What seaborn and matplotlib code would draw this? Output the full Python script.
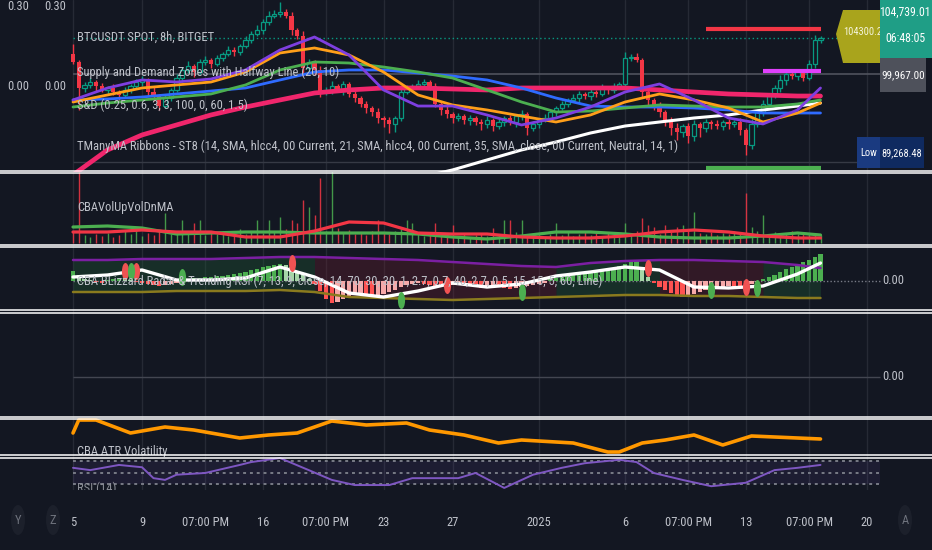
import matplotlib
matplotlib.use("Agg")
import matplotlib.pyplot as plt
import seaborn as sns
import numpy as np
from matplotlib.lines import Line2D
from matplotlib.patches import Rectangle, Polygon, Ellipse
from matplotlib.markers import MarkerStyle
from matplotlib.transforms import Affine2D

# ── Candles: BTCUSDT 8h ───────────────────────────────────────
first_open = 102600
closes = [
    101550, 98120, 98520, 98910, 98380, 97860, 98120, 97590, 97200, 97860,
    98380, 98910, 99180, 97590, 97060, 95740, 96800, 97860, 99440, 100500,
    101020, 100230, 101550, 101820, 101290, 102080, 102610, 103140, 102870, 103660,
    104460, 105250, 105780, 106830, 107620, 107890, 108150, 107620, 105780, 104980,
    100760, 101550, 100500, 97590, 97860, 98380, 97860, 98650, 97330, 96800,
    96010, 95480, 94950, 94160, 93900, 93370, 94160, 97590, 98120, 98380,
    98650, 98910, 98380, 96010, 95220, 94690, 94160, 94420, 93900, 94160,
    93630, 93370, 93900, 93100, 93630, 94160, 93630, 94420, 94690, 92840,
    93370, 93900, 94160, 94950, 95480, 96010, 96540, 96800, 97330, 97060,
    97590, 97330, 98120, 97860, 98380, 98650, 102080, 102210, 101820, 97590,
    96540, 95740, 94950, 93900, 92840, 92310, 93100, 91780, 93370, 92840,
    93630, 93370, 93100, 93630, 93370, 93630, 92580, 90600, 93370, 94950,
    96010, 97060, 98120, 99180, 99970, 99700, 100230, 99440, 101290, 104460, 104739,
]
wick_up = [
    1300, 300, 400, 500, 300, 400, 300, 500, 300, 400,
    300, 400, 500, 300, 600, 300, 400, 300, 500, 400,
    600, 300, 400, 500, 300, 400, 300, 500, 400, 300,
    500, 400, 600, 400, 700, 500, 1300, 400, 500, 300,
    600, 400, 300, 500, 400, 600, 300, 400, 300, 400,
    300, 400, 300, 500, 300, 400, 300, 600, 400, 300,
    500, 400, 300, 400, 300, 500, 300, 400, 300, 400,
    300, 400, 500, 300, 400, 300, 400, 300, 500, 300,
    400, 300, 500, 400, 300, 400, 300, 500, 400, 300,
    400, 300, 500, 300, 400, 300, 800, 400, 500, 300,
    400, 300, 500, 300, 400, 600, 300, 400, 500, 300,
    400, 300, 500, 300, 400, 300, 500, 300, 600, 400,
    500, 300, 400, 600, 400, 500, 300, 400, 500, 600, 300,
]
wick_dn = [
    300, 2900, 500, 400, 600, 300, 500, 400, 600, 300,
    400, 300, 500, 400, 600, 500, 300, 400, 300, 500,
    400, 600, 300, 400, 500, 300, 400, 300, 500, 400,
    300, 400, 300, 500, 400, 300, 400, 300, 600, 400,
    1100, 500, 600, 700, 400, 500, 300, 600, 400, 500,
    400, 600, 500, 700, 900, 1200, 1100, 400, 300, 500,
    400, 300, 500, 400, 600, 500, 700, 400, 500, 600,
    400, 800, 500, 600, 400, 500, 400, 600, 500, 900,
    400, 500, 300, 400, 500, 300, 400, 300, 500, 400,
    500, 400, 300, 500, 400, 300, 500, 400, 300, 600,
    700, 500, 600, 800, 900, 1000, 700, 900, 600, 1200,
    500, 600, 400, 500, 600, 400, 700, 1332, 500, 400,
    500, 400, 300, 500, 600, 400, 500, 400, 300, 500, 400,
]
volumes = [
    12, 71, 8, 6, 9, 7, 10, 6, 8, 12,
    9, 14, 7, 10, 8, 12, 30, 9, 11, 23,
    10, 20, 23, 8, 11, 9, 12, 7, 10, 14,
    9, 12, 23, 10, 23, 11, 26, 14, 23, 20,
    43, 36, 28, 65, 12, 72, 15, 10, 13, 9,
    11, 8, 12, 23, 10, 9, 12, 14, 23, 20,
    9, 7, 11, 20, 8, 10, 18, 7, 9, 6,
    8, 10, 7, 15, 9, 23, 23, 11, 23, 9,
    7, 10, 6, 9, 20, 8, 11, 7, 9, 12,
    8, 10, 7, 11, 9, 8, 20, 10, 12, 25,
    18, 16, 9, 18, 11, 16, 18, 12, 31, 10,
    9, 11, 8, 10, 9, 12, 11, 50, 16, 12,
    28, 9, 11, 8, 10, 12, 9, 11, 10, 9, 8,
]

# ── Moving-average ribbons (sampled every 6 bars) ─────────────
ma_idx = [0, 6, 12, 18, 24, 30, 36, 42, 48, 54, 60, 66, 72, 78, 84, 90, 96, 102, 108, 114, 120, 126, 130]
ma_blue = [96540, 96670, 96930, 97330, 97720, 98120, 99180, 100230, 100500, 100500, 100100, 99700,
           99180, 98120, 96800, 95740, 95610, 95610, 95480, 95220, 94820, 94820, 94820]
ma_green = [95610, 96140, 96540, 96930, 97330, 98520, 100500, 101550, 101420, 100890, 100230, 99440,
            97860, 96270, 94950, 95080, 95480, 95880, 95740, 95610, 95610, 96010, 96540]
ma_orange = [96270, 97200, 98120, 98520, 98910, 100230, 102740, 103400, 102480, 100230, 97200, 95880,
             95220, 94420, 93630, 94560, 96270, 97330, 96540, 95480, 93630, 94820, 96140]
ma_purple = [96540, 98120, 99180, 98910, 99310, 100500, 103140, 104850, 102480, 97860, 95740, 95740,
             94560, 93240, 94160, 95610, 97590, 98650, 96540, 94160, 93370, 95220, 98120]
ma_pink = [86640, 89940, 91920, 93240, 94560, 95610, 96540, 97460, 97860, 98120, 98120, 97990,
           97860, 98120, 98120, 98120, 98120, 97860, 97590, 97330, 97200, 97060, 97060]
ma_white = [np.nan] * 10 + [86240, 87300, 88620, 89940, 90990, 92180, 93100, 93630, 94160, 94560,
                            95220, 95740, 96140]

# supply / demand zone lines
zone_price = [105900, 100360, 87560]
zone_from = [110, 120, 110]
zone_to = [130, 130, 130]
zone_color = ["#f23645", "#e040fb", "#4caf50"]

last_price = 104739.01
level_price = 99967.00
low_price = 89268.48
grid_level = 88350

# ── Volume MAs ────────────────────────────────────────────────
vol_ma_red = [11, 11, 13, 11, 11, 6, 6, 12, 21, 20, 10, 9, 9, 6, 5, 5, 7, 11, 13, 11, 7, 5, 5]
vol_ma_green = [16, 17, 15, 9, 10, 11, 11, 10, 10, 10, 9, 6, 4, 7, 11, 11, 9, 6, 5, 5, 7, 10, 8]

# ── Blizzard radar / trending RSI ─────────────────────────────
osc_line = [4, 6, 11, 1, 1, 3, 14, 4, -12, -16, -10, -2, -6, -3, 5, 9, 14, 11, -6, -7, -5, 7, 18]
band_hi = [21, 21, 22, 22, 22, 23, 24, 24, 23, 22, 21, 19, 17, 15, 14, 18, 20, 21, 21, 20, 19, 16, 13]
band_lo = [-11, -11, -11, -10, -10, -10, -9, -11, -16, -17, -18, -19, -18, -17, -16, -15, -14, -14,
           -15, -15, -16, -17, -17]
osc_hist = [
    10, 6,
    2, 1, -1, -2, 1, 2, 3, 2, 1, -1, -2,
    -3, -4, -5, -4, -3, -2, 1, 2, 3, 3, 4, 4, 5, 5, 6, 7, 8,
    9, 11, 12, 14, 15, 16, 17, 16,
    14, 10, 6, 2, -3,
    -10, -18, -22, -21, -18, -15, -13, -12,
    -14, -16, -15, -13, -11, -9,
    -6, -4, -3, -2, -3, -4, -5, -6, -5, -4, -3,
    -4, -5, -6, -7, -6, -5, -6, -7, -8, -7, -6, -5, -4, -3, -2,
    2, 3, 4, 5, 6, 7, 8, 9, 10, 11, 12, 13, 15, 17, 19, 21,
    12, 4, -2,
    -6, -9, -12, -15, -16, -15, -13, -11,
    -9, -8, -7, -6, -5, -6, -7, -5, -3, -1,
    2, 4, 6, 9, 12, 14, 16, 19, 21, 24, 27,
]
trend_edges = [0, 42, 84, 102, 120, 130]
trend_state = ["bull", "bear", "bull", "bear", "bull"]
sell_idx = [9, 11, 38, 65, 100, 117]
sell_val = [10, 10, 18, -4, 13, -6]
buy_idx = [10, 19, 57, 78, 111, 119]
buy_val = [10, 4, -19, -11, -9, -7]

# ── ATR volatility ────────────────────────────────────────────
atr_idx = [0, 1, 4, 10, 13, 16, 21, 29, 34, 39, 45, 51, 58, 62, 68, 74, 78, 87, 93, 95, 99, 103, 108,
           113, 118, 122, 130]
atr_vals = [22, 35, 35, 22, 25, 28, 25, 17, 20, 22, 34, 30, 32, 25, 20, 12, 15, 12, 3, 3, 12, 15, 20,
            10, 19, 18, 16]

# ── RSI (14) ──────────────────────────────────────────────────
rsi_idx = [0, 3, 8, 12, 14, 16, 18, 23, 29, 31, 36, 41, 45, 49, 55, 59, 67, 70, 75, 80, 85, 89, 95, 98,
           101, 106, 111, 117, 122, 126, 130]
rsi_vals = [59, 55, 64, 60, 41, 38, 47, 50, 64, 69, 76, 55, 38, 29, 29, 41, 41, 50, 24, 47, 59, 67, 73,
            69, 50, 38, 27, 33, 55, 59, 64]

# ── Time axis ─────────────────────────────────────────────────
tick_pos = [0, 12, 23, 33, 44, 54, 66, 81, 96, 107, 117, 128, 138]
tick_labels = ["5", "9", "07:00 PM", "16", "07:00 PM", "23", "27", "2025", "6", "07:00 PM", "13",
               "07:00 PM", "20"]

# ── Style ─────────────────────────────────────────────────────
W, H = 932, 550
BG = "#131722"
GRID = "#262a35"
TXT = "#bfc2ca"
UP = "#089981"
DOWN = "#f23645"
FIRST_PX, BAR_PX = 73, 5.75
RIGHT_BAR = 140.3

sns.set_theme(style="dark", rc={"axes.facecolor": BG, "figure.facecolor": BG})
plt.rcParams["font.family"] = ["Liberation Sans Narrow", "Roboto Condensed", "DejaVu Sans"]
plt.rcParams["font.stretch"] = "condensed"

fig = plt.figure(figsize=(W / 100, H / 100), dpi=100)
PX = Affine2D().scale(1 / W, -1 / H).translate(0, 1) + fig.transFigure
X_LO, X_HI = -FIRST_PX / BAR_PX, (W - FIRST_PX) / BAR_PX


def panel(top, bottom, ylim):
    ax = fig.add_axes([0, 1 - bottom / H, 1, (bottom - top) / H])
    ax.set_xlim(X_LO, X_HI)
    ax.set_ylim(*ylim)
    ax.axis("off")
    for t in tick_pos:
        ax.axvline(t, color=GRID, lw=1, zorder=0)
    return ax


def line(ax, x, y, color, lw, z=3):
    sns.lineplot(x=x, y=y, ax=ax, color=color, linewidth=lw, legend=False,
                 solid_capstyle="round", solid_joinstyle="round", zorder=z)


idx = np.arange(len(closes))
c = np.array(closes, float)
o = np.array([first_open] + closes[:-1], float)
up = c >= o
hi = np.maximum(o, c) + np.array(wick_up)
lo = np.minimum(o, c) - np.array(wick_dn)

# ── Main price panel ──────────────────────────────────────────
ax = panel(0, 172, (87031, 109735))
ax.hlines(grid_level, 0, RIGHT_BAR, color="#363a45", lw=1, zorder=1)
ax.hlines(level_price, 0, RIGHT_BAR, color="#50535e", lw=1.2, zorder=1)
ax.hlines(last_price, 0, 133.5, color=UP, lw=1, linestyles=(0, (1, 2)), zorder=1)
ax.vlines(idx, lo, hi, colors=np.where(up, UP, DOWN), lw=1.0, zorder=2)
body_lo = np.minimum(o, c)
body_h = np.maximum(np.abs(c - o), 80)
ax.bar(idx[up], body_h[up], bottom=body_lo[up], width=0.7, facecolor=BG, edgecolor=UP, lw=0.9, zorder=2.5)
ax.bar(idx[~up], body_h[~up], bottom=body_lo[~up], width=0.7, color=DOWN, lw=0, zorder=2.5)
line(ax, ma_idx, ma_pink, "#f0266c", 3.4)
line(ax, ma_idx, ma_white, "#ffffff", 2.2)
line(ax, ma_idx, ma_blue, "#2f6bff", 2.0)
line(ax, ma_idx, ma_green, "#4caf50", 2.0)
line(ax, ma_idx, ma_orange, "#ff9f1a", 2.0)
line(ax, ma_idx, ma_purple, "#7e3fe0", 2.0)
for p, a, b, col in zip(zone_price, zone_from, zone_to, zone_color):
    ax.hlines(p, a, b, color=col, lw=3, zorder=4)

# ── Volume panel ──────────────────────────────────────────────
axv = panel(172, 246, (-3, 71))
axv.vlines(idx, 0, volumes, colors=np.where(up, "#4caf50", DOWN), lw=1, alpha=0.85, zorder=2)
line(axv, ma_idx, vol_ma_green, "#4caf50", 2.3)
line(axv, ma_idx, vol_ma_red, "#f23645", 2.3)

# ── Blizzard radar panel ──────────────────────────────────────
axr = panel(246, 311.5, (-30.5, 35))
mi = np.array(ma_idx)
for a, b, state in zip(trend_edges[:-1], trend_edges[1:], trend_state):
    m = (mi >= a) & (mi <= b)
    axr.fill_between(mi[m], np.array(band_lo)[m], np.array(band_hi)[m],
                     color="#1f5a35" if state == "bull" else "#6a1f30", alpha=0.35, lw=0, zorder=1)
axr.hlines(0, 0, RIGHT_BAR, color="#787b86", lw=1, linestyles=(0, (1, 1.5)), zorder=1.5)
h = np.array(osc_hist, float)
dh = np.diff(np.concatenate([[0], h]))
hcol = np.where(h >= 0, np.where(dh >= 0, "#4caf50", "#a5d6a7"), np.where(dh <= 0, "#ff5252", "#f7a9a9"))
axr.bar(idx, h, width=0.7, color=hcol, lw=0, zorder=2)
line(axr, ma_idx, band_hi, "#7b1fa2", 1.8)
line(axr, ma_idx, band_lo, "#8a7a1e", 1.8)
line(axr, ma_idx, osc_line, "#ffffff", 2.4, z=4)
oval = MarkerStyle("o", transform=Affine2D().scale(0.42, 1.0))
axr.scatter(sell_idx, sell_val, marker=oval, s=150, color="#f05252", lw=0, zorder=5)
axr.scatter(buy_idx, buy_val, marker=oval, s=150, color="#4caf50", lw=0, zorder=5)

# ── Empty panel ───────────────────────────────────────────────
axe = panel(311.5, 418, (-41, 65.5))
axe.hlines(0, 0, RIGHT_BAR, color="#434651", lw=1)

# ── ATR panel ─────────────────────────────────────────────────
axa = panel(418, 456.5, (-1.5, 37))
line(axa, atr_idx, atr_vals, "#ff9800", 2.6)

# ── RSI panel ─────────────────────────────────────────────────
axs = panel(456.5, 490, (20.4, 78.7))
axs.fill_between([0, RIGHT_BAR], 30, 70, color="#7e57c2", alpha=0.1, lw=0)
for lvl in (70, 50, 30):
    axs.hlines(lvl, 0, RIGHT_BAR, color="#787b86", lw=1.4, linestyles=(0, (1.5, 2)), zorder=1)
line(axs, rsi_idx, rsi_vals, "#7e57c2", 1.4)

# ── Time axis ─────────────────────────────────────────────────
axt = fig.add_axes([0, 1 - 512 / H, 1, 22 / H])
axt.set_xlim(X_LO, X_HI)
axt.set_facecolor(BG)
for s in axt.spines.values():
    s.set_visible(False)
axt.set_yticks([])
axt.set_xticks(tick_pos, tick_labels)
axt.tick_params(axis="x", length=0, colors=TXT, labelsize=9, pad=3)

# ── Texts ─────────────────────────────────────────────────────
def ftext(x, y, s, size=9, color=TXT, **kw):
    return fig.text(x, y, s, transform=PX, fontsize=size, color=color, va="center", **kw)


ftext(77, 37, "BTCUSDT SPOT, 8h, BITGET")
ftext(77, 72, "Supply and Demand Zones with Halfway Line (20, 10)")
ftext(77, 105, "S&D (0.25, 0.6, 3, 3, 100, 0, 60, 1.5)")
ftext(77, 146, "TManyMA Ribbons - ST8 (14, SMA, hlcc4, 00 Current, 21, SMA, hlcc4, 00 Current, "
               "35, SMA, close, 00 Current, Neutral, 14, 1)")
ftext(77, 208, "CBAVolUpVolDnMA")
ftext(77, 281, "CBA BLizzard Radar & Trending RSI (7, 13, 9, close, 14, 70, 30, 30, 1, 2.7, 0.7, "
               "40, 2.7, 0.5, 15, 15, 5, 60, Line)")
ftext(77, 451, "CBA ATR Volatility", clip_on=True, clip_box=axa.bbox)
ftext(77, 488, "RSI (14)", color="#8a8d96", clip_on=True, clip_box=axs.bbox)
for x in (18, 55):
    ftext(x, 6, "0.30", ha="center")
    ftext(x, 87, "0.00", ha="center")
ftext(893, 281, "0.00", ha="center")
ftext(893, 377, "0.00", ha="center")

# right price scale labels
fig.add_artist(Polygon([(836, 34), (843, 10), (880, 10), (880, 63), (843, 63)], closed=True,
                       transform=PX, facecolor="#a9a41c", edgecolor="none", zorder=4))
ftext(843, 32, "104300.2", size=7.5, color="#f4f4dc", zorder=5)
fig.add_artist(Rectangle((880, 0), 52, 58, transform=PX, facecolor="#1f9e86", edgecolor="none", zorder=6))
ftext(905, 12, f"{last_price:,.2f}", size=8.5, color="white", ha="center", zorder=7)
ftext(905, 38, "06:48:05", size=8.5, color="white", ha="center", zorder=7)
fig.add_artist(Rectangle((880, 58), 46, 34, transform=PX, facecolor="#4e515b", edgecolor="none", zorder=6))
ftext(903, 75, f"{level_price:,.2f}", size=8, color="white", ha="center", zorder=7)
fig.add_artist(Rectangle((857, 137), 23, 31, transform=PX, facecolor="#1a3a80", edgecolor="none", zorder=6))
fig.add_artist(Rectangle((880, 137), 44, 31, transform=PX, facecolor="#0f2a60", edgecolor="none", zorder=6))
ftext(868.5, 153, "Low", size=7.5, color="white", ha="center", zorder=7)
ftext(902, 153, f"{low_price:,.2f}", size=7.5, color="white", ha="center", zorder=7)

# bottom-corner buttons
for x, s in ((18, "Y"), (53, "Z"), (905, "A")):
    fig.add_artist(Ellipse((x, 520), 14, 30, transform=PX, facecolor="#1c202b", edgecolor="none"))
    ftext(x, 520, s, color="#6f737d", ha="center", zorder=4)

# pane separators
for yc in (172, 246, 311.5, 418, 456.5):
    for dy in (-1.4, 1.4):
        fig.add_artist(Line2D([0, W], [yc + dy, yc + dy], transform=PX, color="white", lw=1.1, zorder=8))

plt.savefig("out.png", dpi=100, facecolor=BG)
plt.close()
